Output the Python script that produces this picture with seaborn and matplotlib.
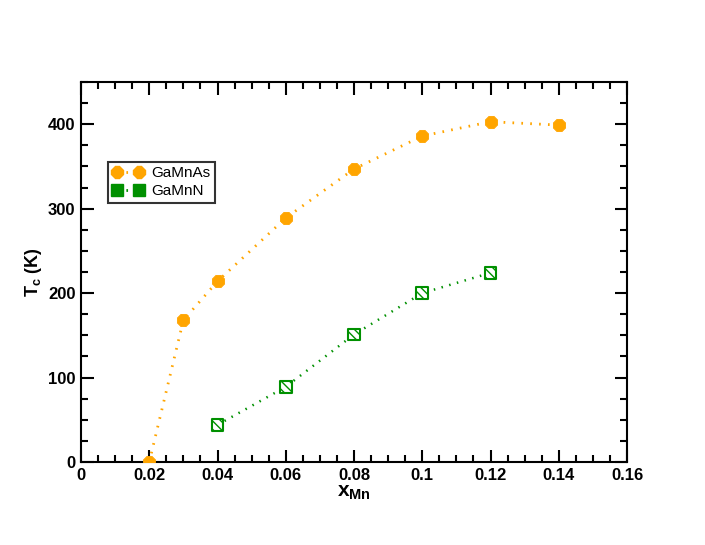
import numpy as np
import matplotlib
matplotlib.use("Agg")
import matplotlib.pyplot as plt
import seaborn as sns
from matplotlib.lines import Line2D
from matplotlib.ticker import MultipleLocator

# Curie temperature vs Mn concentration
x_gamnas = [0.02, 0.03, 0.04, 0.06, 0.08, 0.10, 0.12, 0.14]
tc_gamnas = [0, 168, 214, 289, 347, 386, 403, 399]

x_gamnn = [0.04, 0.06, 0.08, 0.10, 0.12]
tc_gamnn = [44, 89, 151, 200, 224]

orange = "#FFA500"
green = "#009000"

sns.set_style("ticks")
plt.rcParams["font.family"] = "sans-serif"
plt.rcParams["font.sans-serif"] = ["Liberation Sans", "Arial", "DejaVu Sans"]
plt.rcParams["mathtext.fontset"] = "custom"
plt.rcParams["mathtext.rm"] = "Liberation Sans:bold"
plt.rcParams["mathtext.bf"] = "Liberation Sans:bold"
plt.rcParams["mathtext.it"] = "Liberation Sans:bold"
plt.rcParams["text.color"] = "black"
plt.rcParams["axes.labelcolor"] = "black"

fig = plt.figure(figsize=(7.05, 5.45), dpi=100)
ax = fig.add_axes([0.1149, 0.1523, 0.7745, 0.6972])

dots = (0, (0.6, 2.6))
sns.lineplot(x=x_gamnas, y=tc_gamnas, ax=ax, color=orange, lw=2.0,
             linestyle=dots, zorder=2)
sns.lineplot(x=x_gamnn, y=tc_gamnn, ax=ax, color=green, lw=1.8,
             linestyle=dots, zorder=2)

sns.scatterplot(x=x_gamnas, y=tc_gamnas, ax=ax, marker="8", s=90,
                color=orange, edgecolor=orange, linewidth=0.6, zorder=3)
sns.scatterplot(x=x_gamnn, y=tc_gamnn, ax=ax, marker="s", s=70,
                facecolor="white", edgecolor=green, linewidth=1.5,
                hatch="\\\\\\\\", zorder=3)

ax.set_xlim(0, 0.16)
ax.set_ylim(0, 450)
ax.xaxis.set_minor_locator(MultipleLocator(0.005))
ax.yaxis.set_major_locator(MultipleLocator(100))
ax.yaxis.set_minor_locator(MultipleLocator(25))
ax.set_xticks(np.arange(0, 0.161, 0.02))
ax.set_xticklabels(["0", "0.02", "0.04", "0.06", "0.08", "0.1", "0.12", "0.14", "0.16"])

ax.tick_params(which="both", direction="in", top=True, right=True,
               width=1.5, colors="black", labelsize=12, pad=4)
ax.tick_params(which="major", length=9)
ax.tick_params(which="minor", length=5)
for lab in ax.get_xticklabels() + ax.get_yticklabels():
    lab.set_fontweight("bold")
for sp in ax.spines.values():
    sp.set_linewidth(1.5)
    sp.set_color("black")

ax.set_xlabel(r"$\mathbf{x_{Mn}}$", fontsize=15, labelpad=0)
ax.set_ylabel(r"$\mathbf{T_c}$ (K)", fontsize=13, fontweight="bold", labelpad=3)

handles = [
    Line2D([], [], color=orange, lw=2, linestyle=dots, marker="8",
           markersize=9, markerfacecolor=orange, markeredgecolor=orange),
    Line2D([], [], color=green, lw=2, linestyle=dots, marker="s",
           markersize=8, markerfacecolor=green, markeredgecolor=green),
]
leg = ax.legend(handles, ["GaMnAs", "GaMnN"], loc="upper left",
                bbox_to_anchor=(0.05, 0.79), numpoints=2, handlelength=2.0,
                handletextpad=0.5, borderpad=0.3, labelspacing=0.25,
                borderaxespad=0, fancybox=False, framealpha=1,
                edgecolor="#333333", prop={"size": 11})
leg.get_frame().set_linewidth(1.5)

fig.savefig("out.png", dpi=100)
